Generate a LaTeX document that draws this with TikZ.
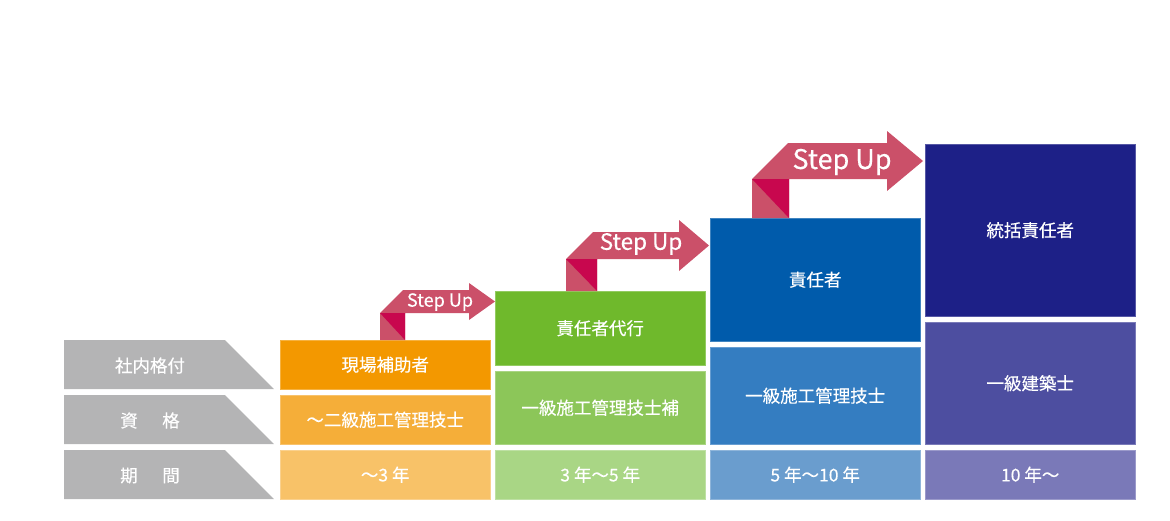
\documentclass[tikz,border=0pt]{standalone}
\usepackage{fontspec}
\setmainfont{Noto Sans CJK JP}[FakeBold=0.25]
\usetikzlibrary{positioning}
\definecolor{labgray}{RGB}{180,180,181}
\definecolor{orgA}{RGB}{243,152,0}
\definecolor{orgB}{RGB}{245,174,57}
\definecolor{orgC}{RGB}{248,194,104}
\definecolor{grnA}{RGB}{111,185,44}
\definecolor{grnB}{RGB}{140,198,89}
\definecolor{grnC}{RGB}{169,214,133}
\definecolor{bluA}{RGB}{0,91,171}
\definecolor{bluB}{RGB}{52,125,193}
\definecolor{bluC}{RGB}{106,157,206}
\definecolor{navA}{RGB}{29,32,135}
\definecolor{navB}{RGB}{77,78,160}
\definecolor{navC}{RGB}{122,121,184}
\definecolor{steppink}{RGB}{203,80,105}
\definecolor{stepfold}{RGB}{200,7,78}
\tikzset{
  cell/.style={rectangle, anchor=north west, inner sep=0pt, minimum width=210pt, text=white, font=\fontsize{17.5}{20}\selectfont},
  rowlabel/.style={text=white, font=\fontsize{17.5}{20}\selectfont},
  steptext/.style={text=white, inner sep=0pt}
}
\begin{document}
\begin{tikzpicture}[x=1pt, y=-1pt]
  \useasboundingbox (0,0) rectangle (1170,520);

  % Row labels
  \fill[labgray] (64,340) -- (225,340) -- (274,389) -- (64,389) -- cycle;
  \node[rowlabel] (rank) at (150,365.5) {社内格付};
  \fill[labgray] (64,395) -- (225,395) -- (274,444) -- (64,444) -- cycle;
  \node[rowlabel] (qual) at (150,420.5) {資\hspace{1.4em}格};
  \fill[labgray] (64,450) -- (225,450) -- (274,499) -- (64,499) -- cycle;
  \node[rowlabel] (term) at (150,475.5) {期\hspace{1.4em}間};

  % Column 1
  \node[cell, fill=orgA, draw=orgA!75!white, minimum height=49pt] (rankA) at (280,340) {現場補助者};
  \node[cell, fill=orgB, draw=orgB!75!white, minimum height=49pt] (qualA) at (280,395) {～二級施工管理技士};
  \node[cell, fill=orgC, draw=orgC!75!white, minimum height=49pt] (termA) at (280,450) {～3 年};

  % Column 2
  \node[cell, fill=grnA, draw=grnA!75!white, minimum height=74pt] (rankB) at (495,291) {責任者代行};
  \node[cell, fill=grnB, draw=grnB!75!white, minimum height=73pt] (qualB) at (495,371) {一級施工管理技士補};
  \node[cell, fill=grnC, draw=grnC!75!white, minimum height=49pt] (termB) at (495,450) {3 年～5 年};

  % Column 3
  \node[cell, fill=bluA, draw=bluA!75!white, minimum height=123pt] (rankC) at (710,218) {責任者};
  \node[cell, fill=bluB, draw=bluB!75!white, minimum height=97pt] (qualC) at (710,347) {一級施工管理技士};
  \node[cell, fill=bluC, draw=bluC!75!white, minimum height=49pt] (termC) at (710,450) {5 年～10 年};

  % Column 4
  \node[cell, fill=navA, draw=navA!75!white, minimum height=172pt] (rankD) at (925,144) {統括責任者};
  \node[cell, fill=navB, draw=navB!75!white, minimum height=122pt] (qualD) at (925,322) {一級建築士};
  \node[cell, fill=navC, draw=navC!75!white, minimum height=49pt] (termD) at (925,450) {10 年～};

  % Step Up 1
  \fill[steppink] (380,313) -- (403,290) -- (469,290) -- (469,283) -- (495,301.5) -- (469,320) -- (469,313) -- (405,313) -- (405,340) -- (380,340) -- cycle;
  \fill[stepfold] (380,313) -- (405,313) -- (405,340) -- cycle;
  \node[steptext, font=\fontsize{18}{20}\selectfont] (stepA) at (440,302) {Step Up};

  % Step Up 2
  \fill[steppink] (566,259) -- (593,232) -- (679,232) -- (679,220) -- (709,245.5) -- (679,271) -- (679,259) -- (597,259) -- (597,291) -- (566,291) -- cycle;
  \fill[stepfold] (566,259) -- (597,259) -- (597,291) -- cycle;
  \node[steptext, font=\fontsize{22.5}{24}\selectfont] (stepB) at (641,244) {Step Up};

  % Step Up 3
  \fill[steppink] (752,179) -- (788,143) -- (887,143) -- (887,131) -- (923,161) -- (887,191) -- (887,179) -- (789,179) -- (789,218) -- (752,218) -- cycle;
  \fill[stepfold] (752,179) -- (789,179) -- (789,218) -- cycle;
  \node[steptext, font=\fontsize{27}{30}\selectfont] (stepC) at (842,162) {Step Up};
\end{tikzpicture}
\end{document}
